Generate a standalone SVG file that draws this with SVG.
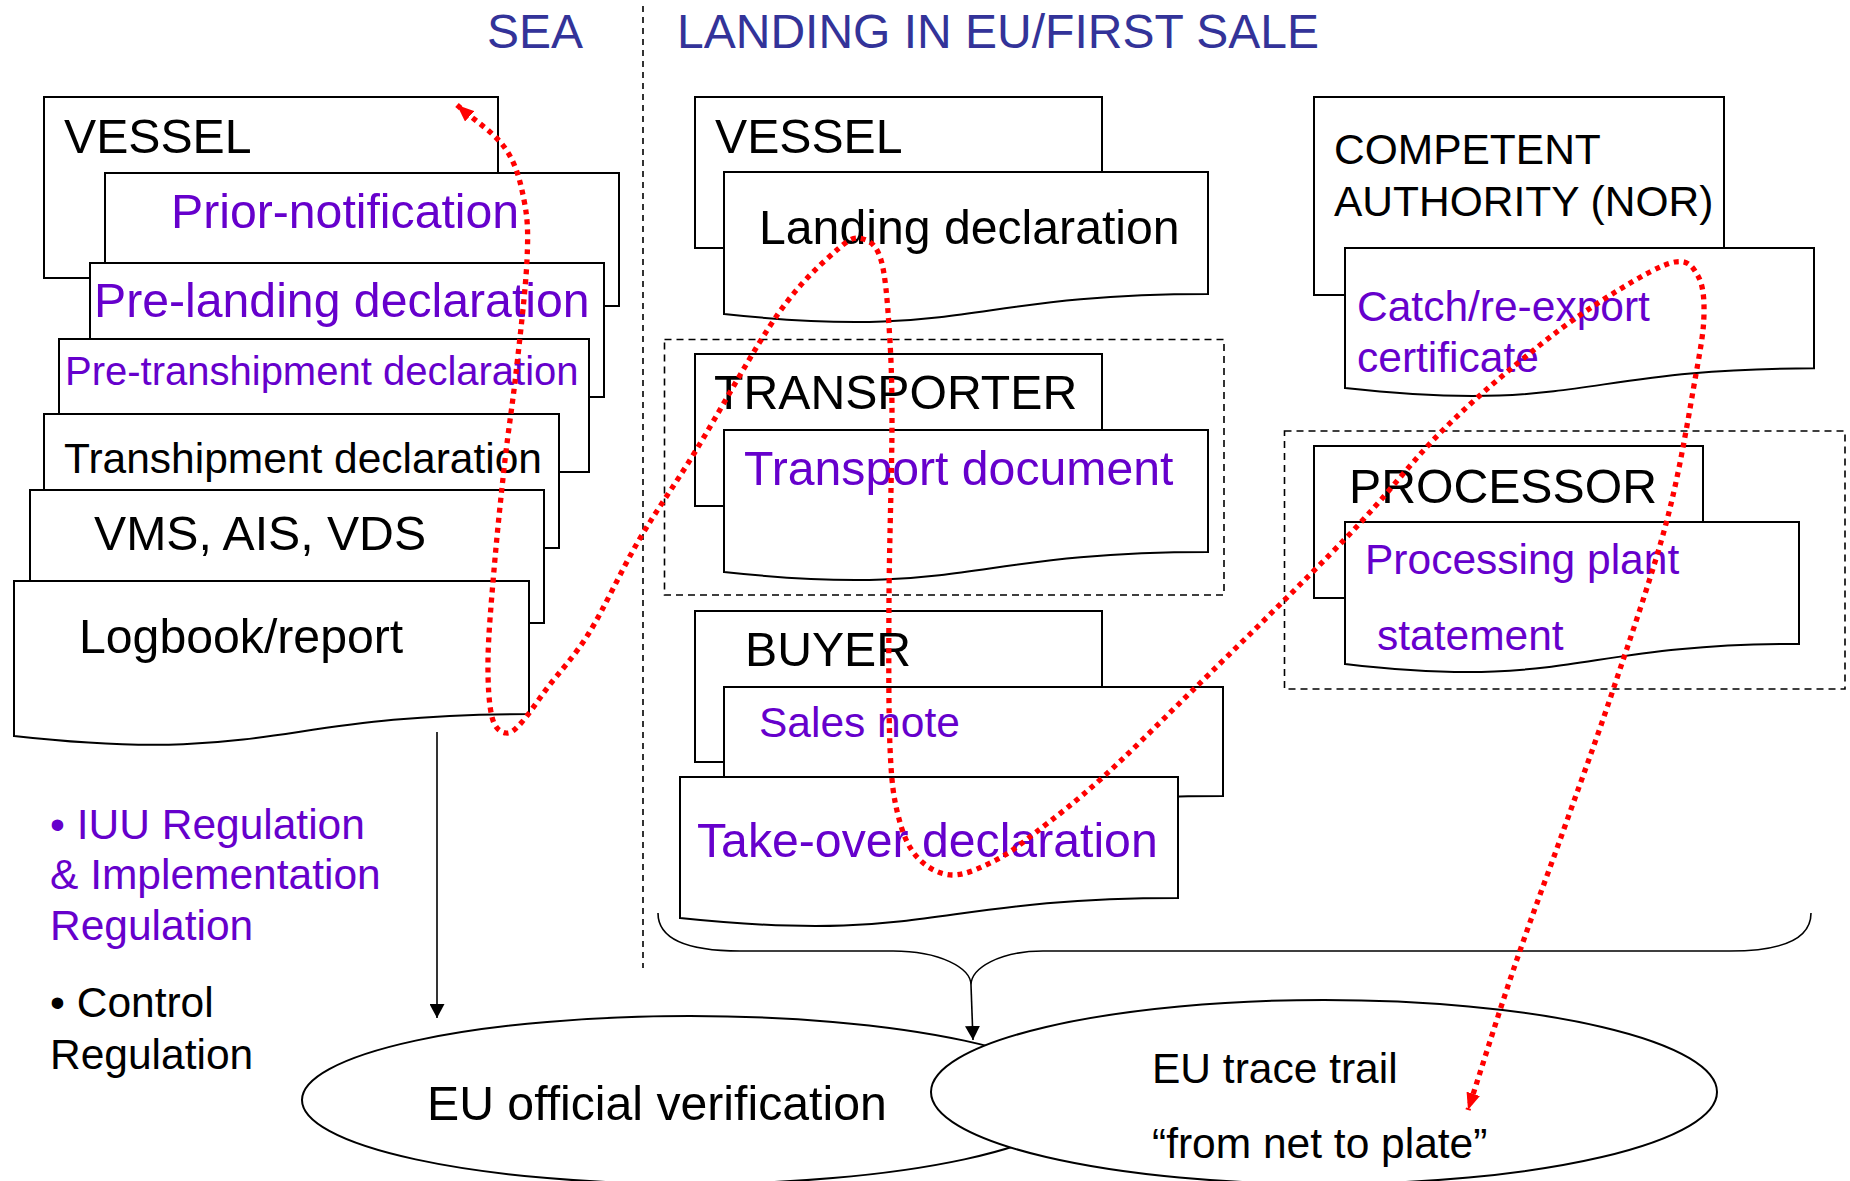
<svg xmlns="http://www.w3.org/2000/svg" width="1850" height="1181" viewBox="0 0 1850 1181">
  <defs>
    <style>
      .box{fill:#fff;stroke:#000;stroke-width:2}
      .grp{fill:none;stroke:#000;stroke-width:1.6;stroke-dasharray:7 5}
      .oval{fill:#fff;stroke:#000;stroke-width:2}
      text{font-family:"Liberation Sans",Arial,sans-serif;fill:#000}
      .p{fill:#6600cc}
      .head{fill:#333399;font-size:48px}
      .L{font-size:48.2px}
      .M{font-size:42.5px}
      .S{font-size:40px}
      .link{fill:none;stroke:#000;stroke-width:1.6}
      .trail{fill:none;stroke:#ff0000;stroke-width:5.3;stroke-dasharray:5 5}
    </style>
    <marker id="arrow" viewBox="0 0 14 15" refX="14" refY="7.5" markerWidth="14" markerHeight="15" markerUnits="userSpaceOnUse" orient="auto">
      <path d="M0,0 L14,7.5 L0,15 Z" fill="#000"/>
    </marker>
    <marker id="redhead" viewBox="0 0 17 14" refX="17" refY="7" markerWidth="17" markerHeight="14" markerUnits="userSpaceOnUse" orient="auto-start-reverse">
      <path d="M0,0 L17,7 L0,14 Z" fill="#ff0000"/>
    </marker>
  </defs>

  <rect width="1850" height="1181" fill="#fff"/>

  <!-- column headings and divider -->
  <text class="head" x="487" y="48">SEA</text>
  <text class="head" x="677" y="48">LANDING IN EU/FIRST SALE</text>
  <line x1="643" y1="6" x2="643" y2="968" stroke="#000" stroke-width="1.6" stroke-dasharray="6 5"/>

  <!-- sea: vessel documents stack -->
  <g id="sea-vessel">
    <rect class="box" x="44" y="97" width="454" height="181"/>
    <text class="L" x="64" y="153">VESSEL</text>
  </g>
  <g id="prior-notification">
    <rect class="box" x="105" y="173" width="514" height="133"/>
    <text class="L p" x="171" y="228">Prior-notification</text>
  </g>
  <g id="pre-landing">
    <rect class="box" x="90" y="263" width="514" height="134"/>
    <text class="L p" x="94" y="317">Pre-landing declaration</text>
  </g>
  <g id="pre-transhipment">
    <rect class="box" x="59" y="339" width="530" height="133"/>
    <text class="S p" x="65" y="385">Pre-transhipment declaration</text>
  </g>
  <g id="transhipment">
    <rect class="box" x="44" y="414" width="515" height="134"/>
    <text x="64" y="473" style="font-size:42.5px">Transhipment declaration</text>
  </g>
  <g id="vms">
    <rect class="box" x="30" y="490" width="514" height="133"/>
    <text class="L" x="94" y="550">VMS, AIS, VDS</text>
  </g>
  <g id="logbook">
    <path class="box" d="M14,581 H529 V714.1 C271.5,714.1 271.5,764.8 14,736 Z"/>
    <text class="L" x="79" y="653">Logbook/report</text>
  </g>

  <!-- regulations -->
  <g id="iuu-regulation">
    <text class="M p" x="50" y="839">• IUU Regulation</text>
    <text class="M p" x="50" y="889">&amp; Implementation</text>
    <text class="M p" x="50" y="940">Regulation</text>
  </g>
  <g id="control-regulation">
    <text class="M" x="50" y="1017">• Control</text>
    <text class="M" x="50" y="1069">Regulation</text>
  </g>

  <!-- landing: vessel -->
  <g id="landing-vessel">
    <rect class="box" x="695" y="97" width="407" height="151"/>
    <text class="L" x="715" y="153">VESSEL</text>
  </g>
  <g id="landing-declaration">
    <path class="box" d="M724,172 H1208 V293.9 C966,293.9 966,340.3 724,314 Z"/>
    <text class="L" x="759" y="244">Landing declaration</text>
  </g>

  <!-- transporter group -->
  <g id="transporter-group">
    <rect class="grp" x="664.5" y="339.5" width="559.5" height="255.5"/>
  </g>
  <g id="transporter">
    <rect class="box" x="695" y="354" width="407" height="152"/>
    <text class="L" x="714" y="409">TRANSPORTER</text>
  </g>
  <g id="transport-document">
    <path class="box" d="M724,430 H1208 V551.9 C966,551.9 966,598.3 724,572 Z"/>
    <text class="L p" x="744" y="485">Transport document</text>
  </g>

  <!-- buyer -->
  <g id="buyer">
    <rect class="box" x="695" y="611" width="407" height="151"/>
    <text class="L" x="745" y="666">BUYER</text>
  </g>
  <g id="sales-note">
    <path class="box" d="M724,687 H1223 V796.1 C973.5,796.1 973.5,837.6 724,814 Z"/>
    <text class="M p" x="759" y="737">Sales note</text>
  </g>
  <g id="take-over">
    <path class="box" d="M680,777 H1178 V898.1 C929,898.1 929,944.2 680,918 Z"/>
    <text class="L p" x="697" y="857">Take-over declaration</text>
  </g>

  <!-- competent authority -->
  <g id="competent-authority">
    <rect class="box" x="1314" y="97" width="410" height="198"/>
    <text class="M" x="1334" y="164">COMPETENT</text>
    <text class="M" x="1334" y="216">AUTHORITY (NOR)</text>
  </g>
  <g id="catch-certificate">
    <path class="box" d="M1345,248 H1814 V368.3 C1579.5,368.3 1579.5,414.1 1345,388.1 Z"/>
    <text class="M p" x="1357" y="321">Catch/re-export</text>
    <text class="M p" x="1357" y="372">certificate</text>
  </g>

  <!-- processor group -->
  <g id="processor-group">
    <rect class="grp" x="1284.5" y="431" width="560.5" height="258"/>
  </g>
  <g id="processor">
    <rect class="box" x="1314" y="446" width="389" height="152"/>
    <text class="L" x="1349" y="503">PROCESSOR</text>
  </g>
  <g id="processing-statement">
    <path class="box" d="M1345,522 H1799 V643.9 C1572,643.9 1572,690.3 1345,664 Z"/>
    <text class="M p" x="1365" y="574">Processing plant</text>
    <text class="M p" x="1377" y="650">statement</text>
  </g>

  <!-- outcomes -->
  <g id="eu-verification">
    <ellipse class="oval" cx="690" cy="1100" rx="388" ry="84"/>
    <text class="L" x="427" y="1120">EU official verification</text>
  </g>
  <g id="eu-trace-trail">
    <ellipse class="oval" cx="1324" cy="1092" rx="393" ry="92"/>
    <text class="M" x="1152" y="1083">EU trace trail</text>
    <text class="M" x="1152" y="1158">“from net to plate”</text>
  </g>

  <!-- connectors -->
  <g id="connectors">
    <line class="link" x1="437" y1="732" x2="437" y2="1018" marker-end="url(#arrow)"/>
    <path class="link" d="M658,913 C658,940 690,951 740,951 H893 C940,951 971,968 971,985 C971,968 1000,951 1043,951 H1730 C1780,951 1811,940 1811,913"/>
    <line class="link" x1="971" y1="985" x2="973" y2="1040" marker-end="url(#arrow)"/>
    <path class="trail" marker-start="url(#redhead)" marker-end="url(#redhead)" d="M457,105 C473,119.3 493.8,132.2 505,148 S520.3,181.3 524,200 S528.3,231.2 527,260 S519.7,339.7 516,373 S508.7,427.2 505,460 S496.8,536.7 494,570 S488.3,635.5 488,660 S489,704.8 492,717 S501,732.2 506,733 S515,729.7 522,722 S536.8,701.8 548,687 S573.8,657.5 589,633 S621.3,570.2 639,540 S671.8,489.7 695,452 S754.2,347.8 778,314 S823.8,261.5 838,249 S855.8,237.2 863,239 S876.7,245.5 881,260 S887.2,299.2 889,326 S892,375.7 892,421 S889.3,543.7 889,598 S888.5,710.8 890,747 S893.5,796.7 898,815 S908,847 917,857 S938.8,874.5 952,875 S982.2,867 996,860 S1017.3,846.7 1035,833 S1075.7,801.8 1102,778 S1152.3,730 1193,690 S1304.3,581.3 1346,538 S1410.7,462.2 1443,430 S1511,368.2 1540,345 S1594.5,304.8 1617,291 S1661.5,264.5 1675,262 S1693.2,267.5 1698,276 S1704.3,296.7 1704,313 S1702.2,339.5 1696,374 S1680.8,467.3 1667,520 S1630,639 1613,690 S1581.3,780.2 1565,826 S1531.2,917.5 1515,965 S1483.7,1061.7 1468,1110"/>
  </g>
</svg>
